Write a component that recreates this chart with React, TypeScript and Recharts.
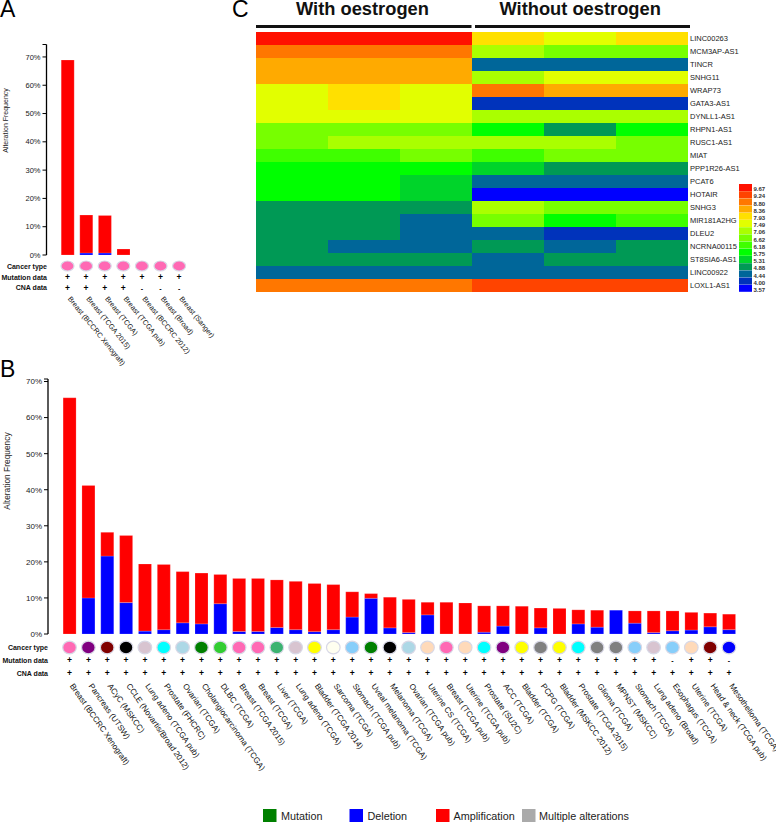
import { Bar, BarChart, Cell, XAxis, YAxis } from "recharts";

const FONT = '"Liberation Sans", Arial, sans-serif';

// panel A
const studiesA = [
  "Breast (BCCRC Xenograft)",
  "Breast (TCGA 2015)",
  "Breast (TCGA)",
  "Breast (TCGA pub)",
  "Breast (BCCRC 2012)",
  "Breast (Broad)",
  "Breast (Sanger)",
];
const deletionA = [0, 0.7, 0.7, 0, 0, 0, 0];
const amplificationA = [68.9, 13.4, 13.3, 2.1, 0, 0, 0];
const typeColorsA = ["#ff69b4", "#ff69b4", "#ff69b4", "#ff69b4", "#ff69b4", "#ff69b4", "#ff69b4"];
const mutationMarksA = ["+", "+", "+", "+", "+", "+", "+"];
const cnaMarksA = ["+", "+", "+", "+", "-", "-", "-"];
const ticksA = [0, 10, 20, 30, 40, 50, 60, 70, 74.4];

// panel B
const studiesB = [
  "Breast (BCCRC Xenograft)",
  "Pancreas (UTSW)",
  "ACyC (MSKCC)",
  "CCLE (Novartis/Broad 2012)",
  "Lung adeno (TCGA pub)",
  "Prostate (FHCRC)",
  "Ovarian (TCGA)",
  "Cholangiocarcinoma (TCGA)",
  "DLBC (TCGA)",
  "Breast (TCGA 2015)",
  "Breast (TCGA)",
  "Liver (TCGA)",
  "Lung adeno (TCGA)",
  "Bladder (TCGA 2014)",
  "Sarcoma (TCGA)",
  "Stomach (TCGA pub)",
  "Uveal melanoma (TCGA)",
  "Melanoma (TCGA)",
  "Ovarian (TCGA pub)",
  "Uterine CS (TCGA)",
  "Breast (TCGA pub)",
  "Uterine (TCGA pub)",
  "Prostate (SU2C)",
  "ACC (TCGA)",
  "Bladder (TCGA)",
  "PCPG (TCGA)",
  "Bladder (MSKCC 2012)",
  "Prostate (TCGA 2015)",
  "Glioma (TCGA)",
  "MPNST (MSKCC)",
  "Stomach (TCGA)",
  "Lung adeno (Broad)",
  "Esophagus (TCGA)",
  "Uterine (TCGA)",
  "Head & neck (TCGA pub)",
  "Mesothelioma (TCGA)",
];
const deletionB = [
  0, 10, 21.6, 8.7, 0.8, 1.2, 3.1, 2.8, 8.4, 0.7, 0.7, 1.8, 1.2, 0.65, 1.2, 4.7, 9.9, 1.7,
  0.4, 5.3, 0, 0, 0.5, 2.2, 0, 1.7, 0, 2.8, 1.9, 6.6, 3, 0.4, 0.9, 1.1, 2, 1.2,
];
const amplificationB = [
  65.5, 31.2, 6.6, 18.6, 18.6, 18.1, 14.2, 14.1, 8.1, 14.7, 14.7, 13.2, 13.4, 13.35, 12.5, 7, 1.3, 8.5,
  9.2, 3.5, 8.8, 8.6, 7.3, 5.6, 7.7, 5.5, 7.1, 3.9, 4.7, 0, 3.4, 6, 5.5, 4.9, 3.8, 4.3,
];
const typeColorsB = [
  "#ff69b4", "#800080", "#800000", "#000000", "#d8c4d0", "#00ffff", "#add8e6", "#008000", "#32cd32",
  "#ff69b4", "#ff69b4", "#3cb371", "#d8c4d0", "#ffff00", "#fffff0", "#87cefa", "#008000", "#000000",
  "#add8e6", "#ffdab9", "#ff69b4", "#ffdab9", "#00ffff", "#800080", "#ffff00", "#808080", "#ffff00",
  "#00ffff", "#808080", "#808080", "#87cefa", "#d8c4d0", "#87cefa", "#ffdab9", "#800000", "#0000ff",
];
const noMutationB = ["Esophagus (TCGA)", "Mesothelioma (TCGA)"];
const ticksB = [0, 10, 20, 30, 40, 50, 60, 70, 70.7];

// panel C
const genes = [
  "LINC00263", "MCM3AP-AS1", "TINCR", "SNHG11", "WRAP73", "GATA3-AS1", "DYNLL1-AS1", "RHPN1-AS1",
  "RUSC1-AS1", "MIAT", "PPP1R26-AS1", "PCAT6", "HOTAIR", "SNHG3", "MIR181A2HG", "DLEU2",
  "NCRNA00115", "ST8SIA6-AS1", "LINC00922", "LOXL1-AS1",
];
const levels = [9.67, 9.24, 8.8, 8.36, 7.93, 7.49, 7.06, 6.62, 6.18, 5.75, 5.31, 4.88, 4.44, 4.0, 3.57];
const levelLabels = ["9.67", "9.24", "8.80", "8.36", "7.93", "7.49", "7.06", "6.62", "6.18", "5.75", "5.31", "4.88", "4.44", "4.00", "3.57"];
const levelColors = [
  "#ff1100", "#ff4400", "#ff7700", "#ffaa00", "#ffe000", "#e2ff00", "#aaff00", "#77ff00",
  "#3fff00", "#00ff00", "#00d42a", "#009955", "#006699", "#0033bb", "#0000ff",
];
const samples = ["w1", "w2", "w3", "n1", "n2", "n3"];
const expression = [
  [9.67, 9.67, 9.67, 7.93, 7.49, 7.93],
  [8.8, 8.8, 8.8, 7.06, 6.62, 6.62],
  [8.36, 8.36, 8.36, 4.44, 4.44, 4.44],
  [8.36, 8.36, 8.36, 7.06, 7.49, 7.49],
  [7.49, 7.93, 7.49, 8.8, 8.36, 8.36],
  [7.49, 7.93, 7.49, 4.0, 4.0, 4.0],
  [7.49, 7.49, 7.49, 7.06, 7.06, 7.06],
  [6.62, 6.62, 6.62, 5.75, 4.88, 5.75],
  [6.62, 7.06, 7.06, 7.06, 7.06, 6.62],
  [6.18, 6.18, 6.62, 6.18, 6.62, 6.62],
  [5.75, 5.75, 5.75, 5.31, 4.88, 4.88],
  [5.75, 5.75, 5.31, 4.44, 4.44, 4.44],
  [5.75, 5.75, 5.31, 3.57, 3.57, 3.57],
  [4.88, 4.88, 4.88, 7.06, 6.62, 6.62],
  [4.88, 4.88, 4.44, 6.62, 5.75, 6.18],
  [4.88, 4.88, 4.44, 4.44, 4.0, 4.0],
  [4.88, 4.44, 4.44, 4.88, 4.44, 4.88],
  [4.88, 4.88, 4.88, 4.44, 4.88, 4.88],
  [4.44, 4.44, 4.44, 4.44, 4.44, 4.44],
  [8.8, 8.8, 8.8, 9.24, 9.24, 9.24],
];

const rowHeaders = ["Cancer type", "Mutation data", "CNA data"];
const legendItems = [
  { name: "Mutation", color: "#008000", swatch: 263, label: 281 },
  { name: "Deletion", color: "#0000ff", swatch: 349.5, label: 367.5 },
  { name: "Amplification", color: "#ff0000", swatch: 436, label: 453.5 },
  { name: "Multiple alterations", color: "#aaaaaa", swatch: 522, label: 539 },
];

const colorOf = (value: number) => levelColors[levels.indexOf(value)];

type RowConfig = {
  studies: string[];
  colors: string[];
  mutation: string[];
  cna: string[];
  circleY: number;
  rx: number;
  ry: number;
  mutationY: number;
  cnaY: number;
  labelY: number;
  angle: number;
  fontSize: number;
};

// everything under a bar hangs off the x axis tick
function StudyTick({ x, payload, index, cfg }: any) {
  const c: RowConfig = cfg;
  const i = index ?? c.studies.indexOf(payload.value);
  const mark = (text: string, y: number) => (
    <text x={x} y={y} textAnchor="middle" fontSize={text === "+" ? 8.5 : 7} fontFamily={FONT} fontWeight="bold" fill="#000">
      {text}
    </text>
  );
  return (
    <g>
      <ellipse cx={x} cy={c.circleY} rx={c.rx} ry={c.ry} fill={c.colors[i]} stroke="#d8d8e6" strokeWidth={1.2} />
      {mark(c.mutation[i], c.mutationY)}
      {mark(c.cna[i], c.cnaY)}
      <text
        x={x}
        y={c.labelY}
        fontSize={c.fontSize}
        fontFamily={FONT}
        fill="#111"
        transform={`rotate(${c.angle} ${x} ${c.labelY})`}
      >
        {payload.value}
      </text>
    </g>
  );
}

type FreqProps = {
  studies: string[];
  deletion: number[];
  amplification: number[];
  cfg: RowConfig;
  ticks: number[];
  top: number;
  maxTick: number;
  axisX: number;
  zeroY: number;
  firstPad: number;
  plotRight: number;
  fontSize: number;
};

function FrequencyChart(p: FreqProps) {
  const rows = p.studies.map((study, i) => ({
    study,
    deletion: p.deletion[i],
    amplification: p.amplification[i],
  }));
  return (
    <div style={{ position: "absolute", left: 0, top: 0 }}>
      <BarChart
        width={776}
        height={800}
        data={rows}
        barSize={13}
        margin={{ top: p.top, left: 0, right: 776 - p.plotRight, bottom: 0 }}
      >
        <XAxis
          dataKey="study"
          height={800 - p.zeroY}
          interval={0}
          axisLine={false}
          tickLine={false}
          padding={{ left: p.firstPad, right: 0 }}
          tick={(t: any) => <StudyTick {...t} cfg={p.cfg} />}
        />
        <YAxis
          width={p.axisX}
          domain={[0, p.maxTick]}
          ticks={p.ticks}
          interval={0}
          allowDataOverflow
          tickSize={4}
          tickMargin={2}
          axisLine={{ stroke: "#000", strokeWidth: 1.3 }}
          tickLine={{ stroke: "#000", strokeWidth: 1 }}
          tick={{ fontSize: p.fontSize, fontFamily: FONT, fill: "#222" }}
          tickFormatter={(v: number) => (v > 70 ? "" : `${v}%`)}
        />
        <Bar dataKey="deletion" stackId="a" fill="#0000ff" stroke="#fff" strokeOpacity={0.35} strokeWidth={0.5} isAnimationActive={false} />
        <Bar dataKey="amplification" stackId="a" fill="#ff0000" stroke="#fff" strokeOpacity={0.35} strokeWidth={0.5} isAnimationActive={false} />
      </BarChart>
    </div>
  );
}

function GeneTick({ x, y, payload }: any) {
  return (
    <text x={x} y={y + 2.8} fontSize={7.5} fontFamily={FONT} fill="#222">
      {payload.value}
    </text>
  );
}

function Heatmap() {
  const rows = genes.map((gene) => {
    const row: Record<string, string | number> = { gene };
    samples.forEach((s) => (row[s] = 1));
    return row;
  });
  return (
    <div style={{ position: "absolute", left: 256, top: 32 }}>
      <BarChart width={520} height={260} data={rows} layout="vertical" barCategoryGap={0} margin={{ top: 0, right: 0, bottom: 0, left: 0 }}>
        <XAxis type="number" hide domain={[0, 6]} />
        <YAxis
          type="category"
          dataKey="gene"
          orientation="right"
          width={88}
          interval={0}
          axisLine={false}
          tickLine={false}
          tickSize={0}
          tickMargin={2}
          tick={(t: any) => <GeneTick {...t} />}
        />
        {samples.map((s, col) => (
          <Bar key={s} dataKey={s} stackId="heat" isAnimationActive={false}>
            {expression.map((row, r) => (
              <Cell key={r} fill={colorOf(row[col])} />
            ))}
          </Bar>
        ))}
      </BarChart>
    </div>
  );
}

function LevelTick({ x, y, payload }: any) {
  return (
    <text x={x} y={y + 3.6} fontSize={6} fontFamily={FONT} fontWeight="bold" fill="#333">
      {payload.value}
    </text>
  );
}

function ColorKey() {
  const rows = levelLabels.map((level) => ({ level, size: 1 }));
  return (
    <div style={{ position: "absolute", left: 739, top: 184 }}>
      <BarChart width={36} height={108} data={rows} layout="vertical" barCategoryGap={0} margin={{ top: 0, right: 0, bottom: 0, left: 0 }}>
        <XAxis type="number" hide domain={[0, 1]} />
        <YAxis
          type="category"
          dataKey="level"
          orientation="right"
          width={23}
          interval={0}
          axisLine={false}
          tickLine={false}
          tickSize={0}
          tickMargin={1.5}
          tick={(t: any) => <LevelTick {...t} />}
        />
        <Bar dataKey="size" isAnimationActive={false}>
          {levelColors.map((color) => (
            <Cell key={color} fill={color} />
          ))}
        </Bar>
      </BarChart>
    </div>
  );
}

const cfgA: RowConfig = {
  studies: studiesA,
  colors: typeColorsA,
  mutation: mutationMarksA,
  cna: cnaMarksA,
  circleY: 266,
  rx: 6.5,
  ry: 5,
  mutationY: 280,
  cnaY: 291,
  labelY: 299,
  angle: 51,
  fontSize: 7.2,
};

const cfgB: RowConfig = {
  studies: studiesB,
  colors: typeColorsB,
  mutation: studiesB.map((s) => (noMutationB.includes(s) ? "-" : "+")),
  cna: studiesB.map(() => "+"),
  circleY: 647.5,
  rx: 6.8,
  ry: 6.3,
  mutationY: 663,
  cnaY: 676,
  labelY: 686,
  angle: 55,
  fontSize: 8.1,
};

function Annotations() {
  const letter = { fontSize: 23, fontFamily: FONT, fill: "#000" };
  const header = { fontSize: 18.3, fontFamily: FONT, fontWeight: "bold", fill: "#111" };
  const rowLabel = { fontSize: 7, fontFamily: FONT, fontWeight: "bold", fill: "#111", textAnchor: "end" } as const;
  return (
    <svg width={776} height={822} style={{ position: "absolute", left: 0, top: 0, pointerEvents: "none" }}>
      <text x={0} y={17} {...letter}>A</text>
      <text x={0} y={377} {...letter}>B</text>
      <text x={232} y={17} {...letter}>C</text>

      <text x={296} y={15} {...header}>With oestrogen</text>
      <text x={499.5} y={15} {...header}>Without oestrogen</text>
      <rect x={256} y={25} width={215.5} height={3} fill="#111" />
      <rect x={475} y={25} width={215} height={3} fill="#111" />

      <text transform="translate(7.5 120.5) rotate(-90)" textAnchor="middle" fontSize={7} fontFamily={FONT} fill="#222">
        Alteration Frequency
      </text>
      <text transform="translate(10 471) rotate(-90)" textAnchor="middle" fontSize={8.4} fontFamily={FONT} fill="#222">
        Alteration Frequency
      </text>

      {rowHeaders.map((name, i) => (
        <text key={name} x={47} y={[268.5, 279.5, 290][i]} {...rowLabel}>{name}</text>
      ))}
      {rowHeaders.map((name, i) => (
        <text key={name} x={48} y={[649.5, 662.5, 675.5][i]} {...rowLabel}>{name}</text>
      ))}

      {legendItems.map((item) => (
        <g key={item.name}>
          <rect x={item.swatch} y={809} width={13.5} height={13} fill={item.color} />
          <text x={item.label} y={820} fontSize={10.8} fontFamily={FONT} fill="#222">{item.name}</text>
        </g>
      ))}
    </svg>
  );
}

export default function App() {
  return (
    <div style={{ position: "absolute", left: 0, top: 0, width: 776, height: 822, overflow: "hidden", background: "#fff" }}>
      <FrequencyChart
        studies={studiesB}
        deletion={deletionB}
        amplification={amplificationB}
        cfg={cfgB}
        ticks={ticksB}
        top={379}
        maxTick={70.7}
        axisX={48}
        zeroY={634}
        firstPad={12.1}
        plotRight={738.4}
        fontSize={8}
      />
      <div style={{ position: "absolute", left: 0, top: 0 }}>
        <FrequencyChart
          studies={studiesA}
          deletion={deletionA}
          amplification={amplificationA}
          cfg={cfgA}
          ticks={ticksA}
          top={44.5}
          maxTick={74.4}
          axisX={46.5}
          zeroY={255}
          firstPad={11.7}
          plotRight={188.4}
          fontSize={7.5}
        />
      </div>
      <Heatmap />
      <ColorKey />
      <Annotations />
    </div>
  );
}
